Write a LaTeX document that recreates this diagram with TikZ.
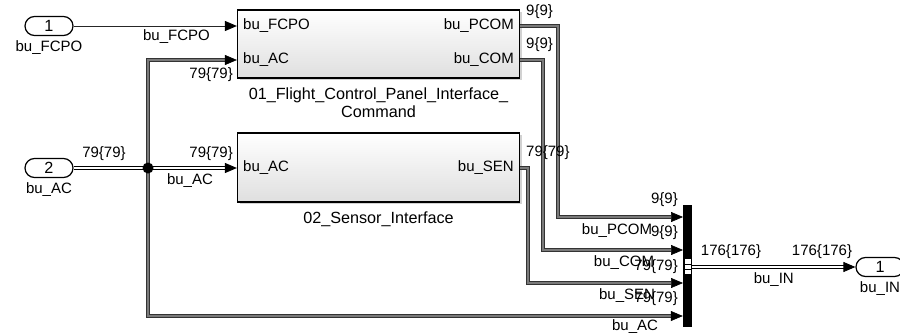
\documentclass[tikz,border=0pt]{standalone}
\usepackage{fontspec}
\setmainfont{Liberation Sans}
\usetikzlibrary{arrows.meta,shapes.misc,shadows,positioning}

\tikzset{
  port/.style={draw, line width=1.2pt, rounded rectangle, minimum width=48pt,
    minimum height=19pt, inner sep=0pt, fill=white},
  subsys/.style={draw, line width=1.2pt, top color=white, bottom color=gray!25,
    drop shadow={shadow xshift=2pt, shadow yshift=-2pt, fill=gray!70}, inner sep=0pt},
  tip/.style={-{Triangle[length=12pt, width=10pt, color=black]}},
  sig/.style={tip, draw=black!85, line width=0.9pt},
  bus/.style={tip, draw=black!80, line width=0.6pt, double=black!52, double distance=2pt},
  dbus/.style={tip, draw=black, line width=0.9pt, double=white, double distance=1.6pt},
  lbl/.style={font=\fontsize{15}{17}\selectfont, inner sep=1pt},
  inlbl/.style={lbl, anchor=west},
  outlbl/.style={lbl, anchor=east},
}

\begin{document}
\begin{tikzpicture}[x=1pt, y=-1pt, font=\fontsize{16.2}{18}\selectfont]
  \useasboundingbox (0,0) rectangle (900,335);

  % Inports
  \node[port] (in1) at (49,26) {1};
  \node[lbl, below=3pt of in1] (in1name) {bu\_FCPO};
  \node[port] (in2) at (49,168) {2};
  \node[lbl, below=3pt of in2] (in2name) {bu\_AC};

  % Subsystems
  \node[subsys, minimum width=282pt, minimum height=68pt] (fcp) at (378.5,44) {};
  \node[align=center, below=6pt of fcp] (fcpname) {01\_Flight\_Control\_Panel\_Interface\_\\Command};
  \node[inlbl] (fcpFCPO) at (242,26) {bu\_FCPO};
  \node[inlbl] (fcpAC) at (242,60) {bu\_AC};
  \node[outlbl] (fcpPCOM) at (515,26) {bu\_PCOM};
  \node[outlbl] (fcpCOM) at (515,60) {bu\_COM};

  \node[subsys, minimum width=282pt, minimum height=69pt] (sen) at (378.5,167.5) {};
  \node[below=6pt of sen] (senname) {02\_Sensor\_Interface};
  \node[inlbl] (senAC) at (242,168) {bu\_AC};
  \node[outlbl] (senSEN) at (515,168) {bu\_SEN};

  % Bus creator
  \node[fill=black, minimum width=9pt, minimum height=122pt, inner sep=0pt] (mux) at (687.5,266) {};
  \coordinate (muxPCOM) at (683,217);
  \coordinate (muxCOM) at (683,250);
  \coordinate (muxSEN) at (683,283);
  \coordinate (muxAC) at (683,316);
  \fill[white] (685,259) rectangle (691,274);
  \draw[black, line width=0.6pt] (685,264) -- (691,264) (685,269) -- (691,269);

  % Outport
  \node[port] (out1) at (880,267) {1};
  \node[lbl, below=3pt of out1] (out1name) {bu\_IN};

  % Branch point
  \coordinate (br) at (148,168);

  % Lines
  \draw[sig] (in1.east) -- node[lbl, below=2pt, pos=0.63] {bu\_FCPO} (fcp.west |- in1.east);
  \draw[bus] (br) |- (fcp.west |- fcpAC);
  \node[lbl, anchor=north east] at (234,66) {79\{79\}};
  \draw[bus] (br) |- (mux.west |- muxAC);
  \draw[dbus] (in2.east) -- (sen.west |- senAC);
  \node[lbl, anchor=south] at (104,162) {79\{79\}};
  \node[lbl, below=4pt] at (190,168) {bu\_AC};
  \node[lbl, anchor=south east] at (234,162) {79\{79\}};
  \fill (br) circle (5.5pt);

  \draw[bus] (fcp.east |- fcpPCOM) -| (558,217) -- (muxPCOM);
  \draw[bus] (fcp.east |- fcpCOM) -| (543,250) -- (muxCOM);
  \draw[bus] (sen.east |- senSEN) -| (528,283) -- (muxSEN);
  \node[lbl, anchor=south west] at (525,20) {9\{9\}};
  \node[lbl, anchor=south west] at (525,53) {9\{9\}};
  \node[lbl, anchor=south west] at (525,161) {79\{79\}};

  % Bus creator labels
  \node[lbl, anchor=east] at (679,200) {9\{9\}};
  \node[lbl] at (617,231) {bu\_PCOM};
  \node[lbl, anchor=east] at (679,233) {9\{9\}};
  \node[lbl] at (624,263) {bu\_COM};
  \node[lbl, anchor=east] at (679,267) {79\{79\}};
  \node[lbl] at (627,296) {bu\_SEN};
  \node[lbl, anchor=east] at (679,299) {79\{79\}};
  \node[lbl] at (635,327) {bu\_AC};

  \draw[dbus] (mux.east |- out1.west) -- node[lbl, below=4pt] {bu\_IN} (out1.west);
  \node[lbl] at (731,252) {176\{176\}};
  \node[lbl] at (822,252) {176\{176\}};
\end{tikzpicture}
\end{document}
